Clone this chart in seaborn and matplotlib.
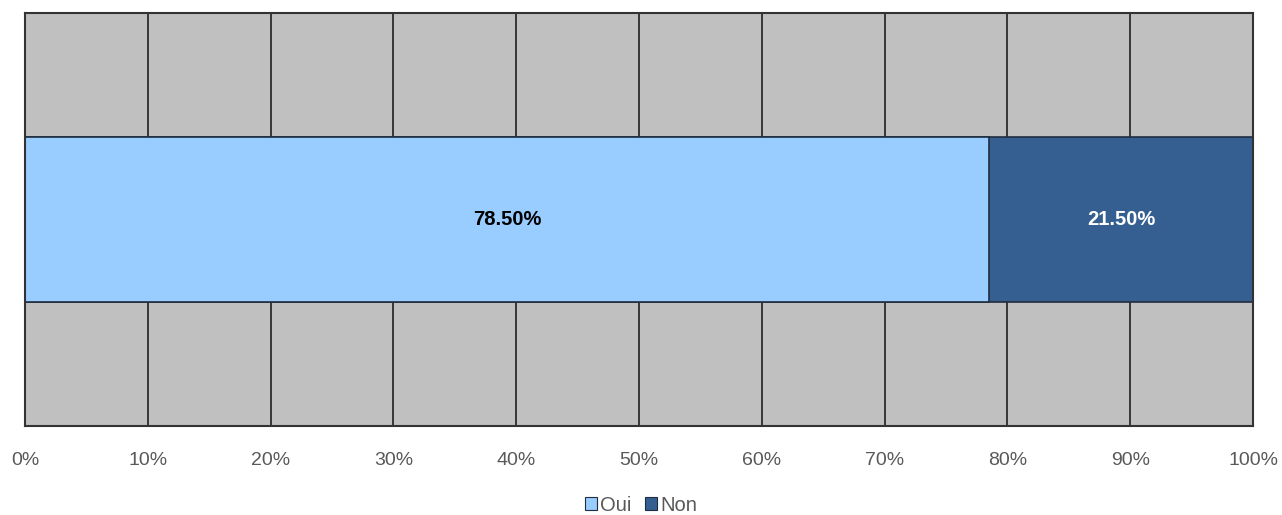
import numpy as np
import pandas as pd
import matplotlib
matplotlib.use("Agg")
import matplotlib.pyplot as plt
import seaborn as sns
from matplotlib.patches import Patch

# data
categories = ["Oui", "Non"]
shares = [78.50, 21.50]
colors = ["#99CCFF", "#355E91"]
ticks = list(range(0, 101, 10))

sns.set_theme(style="white")
plt.rcParams["font.family"] = ["Liberation Sans", "DejaVu Sans"]

fig = plt.figure(figsize=(12.82, 5.15), dpi=100)
ax = fig.add_axes([25 / 1282, 1 - 426 / 515, 1228 / 1282, 413 / 515])
ax.set_facecolor("#C0C0C0")

# stacked horizontal bar: draw cumulative widths, widest first
cum = np.cumsum(shares)
for i in range(len(categories) - 1, -1, -1):
    df = pd.DataFrame({"row": ["r"], "val": [cum[i]]})
    sns.barplot(data=df, x="val", y="row", orient="h", color=colors[i],
                width=0.4, edgecolor="#1F2D3F", linewidth=1.2,
                saturation=1, ax=ax)

starts = np.concatenate([[0], cum[:-1]])
txt_colors = ["black", "white"]
for s, v, tc in zip(starts, shares, txt_colors):
    ax.text(s + v / 2, 0, f"{v:.2f}%", ha="center", va="center",
            fontsize=14.5, fontweight="bold", color=tc)

ax.set_xlim(0, 100)
ax.set_ylim(0.5, -0.5)
ax.set_xticks(ticks)
ax.set_xticklabels([f"{t}%" for t in ticks], fontsize=14, color="#595959")
ax.tick_params(axis="x", length=0, pad=19)
ax.set_yticks([])
ax.set_xlabel("")
ax.set_ylabel("")
ax.xaxis.grid(True, color="#202020", linewidth=1.2)
ax.set_axisbelow(True)
for sp in ax.spines.values():
    sp.set_visible(True)
    sp.set_color("#333333")
    sp.set_linewidth(1.5)

handles = [Patch(facecolor=c, edgecolor="#1F2D3F", linewidth=0.8, label=l)
           for c, l in zip(colors, categories)]
fig.legend(handles=handles, loc="lower center", bbox_to_anchor=(0.5, -0.035),
           ncol=2, frameon=False, fontsize=14.5, handlelength=0.6,
           handleheight=0.6, handletextpad=0.15, columnspacing=0.7,
           labelcolor="#595959")

fig.savefig("out.png", dpi=100)
